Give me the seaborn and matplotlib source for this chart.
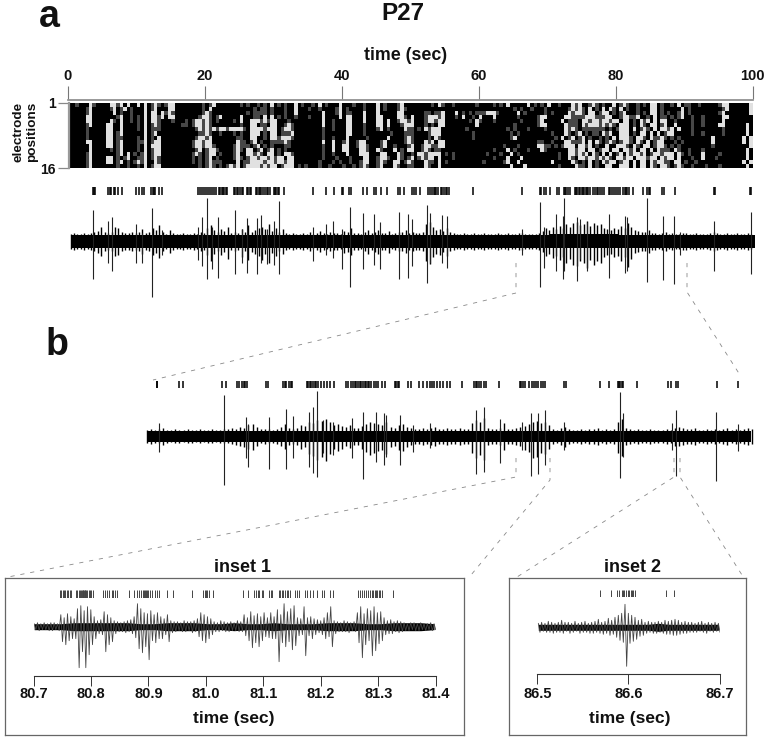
import numpy as np
import matplotlib
matplotlib.use('Agg')
import matplotlib.pyplot as plt
from matplotlib.lines import Line2D
import seaborn as sns

W, H = 765, 739

# electrode activity, 0.5 s bins, four 25 s blocks per row ('.' silent, ':' weak, '#' strong)
heat_rows = [
    ["..:...#:....##:#.#..#.#.:#:.:##........:.:#........", ":.:..:.:.#.:.:..#.:..:.#.:...#...:..:...#.:...:#..#", "......:.#:..:......:....:.:.#.....#.:.:.#..:...#:#:.", "..:#:.:..#.:#:..:.:.##.:..:.#.::..:.....:##......#.#"],
    [".....:#.....:#.:#.:...#.:#...##........:.#.........", "....:.::.:...:..#...:..:....:#.:....:...#.:...:#:..", "..............................:.:..:...:......:#:#:", ":.#.:.#.#:.#.:..:...##.:.....#.:.........:#......#.#"],
    [".....:#......#.:..:...#.##.#:#:........:#:.........", "..:.::::.:...:..#.......#...:#.::...#...#.....##...", "....::.::#...#.:.:.:::###:.....#.:.....:.:....#:##", ":.##.:##.:.:#...:.:.##.:.:..:#.:........:#.......#.#"],
    [".....##.......:#..:.:.#.##:#.##.......:##:.:#.....:#", "#...::.#.#.:.:..:...:...#....#.##...#...##....##:.:", "#...:###:#...:.#..:.#...#......:.....:##.....##:::", ":###:::##..:##::#..:.#.::.:.:#..:..:.....##.......#"],
    [".....##.....#:.#..:.:.#.##:...:...:.:##:#:.:....:.##", "#..###:#:##...:.........#..:...##...#...##.#..:##:#", "#...:##:##.......:.#:...:.......:....:#.....#.:::.", "##:##:##:##.##.:.#:#.#.##..:....:..:.....#........#"],
    [".....:#....##..#....:.#.:#:......::.:##:#:........:#", ":..##.::.##..:#:........#..:...##...:...##.#...:##:", "#...:.:.##.........#..........:......:##.....#:::.:", "#:###:#:#:.###.:.#:.##.:#..#....:..:....##......#.#"],
    [".....:.....##..#....:.#.:::..........:#:#:#:##:###:#", "#:.####:###.:##:........:..:...##...:...:#.:....#:#", ":.:.#:###.......:...........:.:...:....:.....#:#:..", ":::::::.:.:###.#.:#:.#.##:#.#...:........:......#.#"],
    [".....:.....##.:#......#.:#............::#:..:...:.:.", ":..###.:.##.:::#........:......##...:.......:...::#", ":....:###.........:..........:.:.........:...#:.:#:", ".:.::.#:#..###.:.##.#.#.:##.....:..:.....:......#.#"],
    [".....:.....##.::....:.#.:.#..........:##:#.......:#.", ":..##..:.##:###:........:..:...#.....:.....#....:#:", ":....:.#:.........:..........:#...........:.#.:#.:", "#.:..:.:.#.###:.##:.#::#:.:.:.........#........#.#"],
    [".....##....##.:#....::#.:##.........:##:##.......##.", "::.:#.:..::::#:.........#..#..:#..:##....:#.....:#:", ":...#:#.##...........................::..:...##:::", "#.#.#:.:#:.:##:.#:.#.:##...:.:........#........#.#"],
    ["......#....##.:#....:.#.###.........:##:##:.....:##.", ":::.:#.:.:...::.........:..#..##..:##:...:#..:...:#", "#..:##::##.................:...:.....##::.:.:###.##", "#:#.:..#..###:.#:.##.:##:.:.:.........:..........#"],
    ["......#.....:.:#....:.#.:##..........:#.:##:....:##.", ":.##.:#.:#.:.:..........:..#..##...##:..#:...#.:.#", "#..:#:.::...............:...#.:...:...#:......##:##", "#.##.:##.##.##:#.##.#.#:::.#:..:...:............#.#"],
    [".....:#.......:#.#.:.:#.:##.........:#:.:##.:...:#:.", "..##:#:.##.:.##:........:..:...#...###...##...#:...:", ":.##:####.:.:.........:...:..#.:...........:..##:##", ":#.#:.#.#.:#.#:##:#.:##:###.#:.:...#....:.......#.#"],
    [".....:#....##.:.:#..::#.:#:.........:.:.:#.:....:#:.", ":.:##:##:#:##.##........:...:...:...##..:##:..#:.:#", "#.:#:##.#...:...........:...#...#..........:..#:.##", "#:##:#:#:.##:##.###:##.#:##.#...:..#...:........#.#"],
    [".....:#....##.:#.:.:#:#..#:.........:.:.:#:::....#:.", ".::####:##:##:##.......:...:.:..:..:##..:#:..##.:#", ":...#::.#.:..........:.....:#..#.........#.....#:.#", ":.#.:.#:##.:##.#.##.#:##::.##.:..:.............#.#"],
    [".....:#.......:..:..:.#.:##...........:.:#:.:.:#:##.", ".:####:#:##.:###.:.:...:..:...:..:.:#:..:#...#:..:", ":...#:..#....................#...#.........:....#:.:", ":.#.:..##..###.#.##.#:.##:.:#:..:...:...:.......#.#"],
]
heat_levels = {'.': 0.0, ':': 0.28, '#': 0.88}
time_ticks = [0, 20, 40, 60, 80, 100]

# panel a trace: solid core per 10 s, fringe per 0.5 s, large spikes
a_core_up = [6, 6, 6, 6, 6, 6, 6, 7, 6, 6]
a_core_down = [7, 7, 7, 7, 7, 7, 7, 7, 7, 7]
a_fuzz_up = [7,8,7,7,8,7,8,9,10,14,9,8,9,14,13,9,8,8,9,8,
             9,12,8,9,13,11,16,9,7,11,8,7,7,8,7,7,8,7,9,8,
             13,16,11,9,12,10,14,8,9,8,12,9,16,9,11,13,14,12,17,10,
             13,9,12,8,7,8,7,7,8,7,9,7,8,10,8,7,9,8,8,7,
             10,9,13,8,8,7,9,11,8,9,11,8,8,10,7,8,9,9,11,8,
             9,8,8,9,17,19,14,11,12,10,13,9,8,7,7,8,7,7,8,7,
             7,8,7,7,7,8,7,7,8,7,7,8,8,7,7,7,7,8,10,13,
             11,14,12,15,13,17,14,18,19,16,17,20,15,18,16,17,13,12,11,13,
             12,15,13,18,14,11,10,9,9,11,8,8,7,8,9,7,8,7,7,8,
             8,7,7,8,7,7,7,8,9,8,7,7,8,7,7,8,7,7,8,7]
a_fuzz_down = [8,9,8,8,9,8,9,10,12,15,10,9,10,15,14,10,9,9,10,9,
               10,13,9,10,14,12,17,10,8,12,9,8,8,9,8,8,9,8,10,9,
               14,20,13,10,14,11,18,9,10,9,16,10,19,11,13,15,19,13,22,12,
               15,10,13,9,8,9,8,8,9,8,10,8,9,11,9,8,10,9,9,8,
               12,11,14,9,9,8,10,13,9,11,13,9,9,12,8,9,10,10,12,9,
               10,9,9,10,20,23,16,13,14,11,15,10,9,8,8,9,8,8,9,8,
               8,9,8,8,8,9,8,8,9,8,8,9,9,8,8,8,8,9,11,15,
               13,17,15,19,16,22,18,24,25,20,22,27,19,24,20,22,16,14,13,16,
               15,20,16,26,18,12,11,10,10,12,9,9,8,9,10,8,9,8,8,9,
               9,8,8,9,8,8,8,9,10,9,8,8,9,8,8,9,8,8,9,8]
a_spike_t = [3.6,5.8,6.4,9.8,10.8,12.2,13.6,18.9,19.5,20.2,21,21.8,24.3,25.4,26.1,27.6,28.1,29,30,30.8,
             35.8,37.6,38.7,40,41.1,43,44.7,45.6,48.3,49.6,50.2,52.4,52.8,54.6,55.3,66.3,68.9,69.5,71.2,72.3,
             72.5,74.3,74.8,75.8,79,81.4,81.6,84.6,86.9,88.5,89.4,94.4,99.8]
a_spike_up = [31,20,24,17,8,33,11,14,24,43,14,24,31,12,23,23,26,12,20,40,
              14,17,20,12,34,28,27,19,29,27,22,36,28,26,25,12,39,14,27,25,
              43,24,22,19,27,25,24,43,25,25,9,20,29]
a_spike_down = [38,22,30,22,22,56,14,19,25,38,28,37,33,22,32,33,22,23,24,33,
                20,14,17,28,46,28,24,28,38,37,25,42,22,22,27,14,46,27,30,38,
                30,40,18,30,37,32,30,41,39,43,14,30,33]
a_events = [3.6,3.7,3.9,5.8,6,6.2,6.6,6.8,7.3,7.8,9.9,10.3,10.7,11.1,12.1,12.3,12.5,12.7,13.3,13.7,
            18.9,19.2,19.5,19.8,20.1,20.4,20.7,21,21.3,21.6,22,22.2,22.4,22.6,22.8,23,23.2,
            24.2,24.4,24.6,24.8,25,25.4,25.5,26.1,26.3,26.5,26.7,27.4,27.6,27.8,28,28.2,28.4,28.8,29,29.2,29.4,
            30,30.2,30.4,30.6,30.8,31.5,35.8,37.6,38.8,40,40.2,41,41.3,43.1,43.6,44.6,45,45.7,46.5,48.2,
            48.4,49,50.2,50.5,50.8,51.4,52.6,52.8,53.1,53.4,53.6,53.8,54,54.4,54.6,54.9,55.2,55.4,55.6,
            59.2,66.3,68.9,69.1,69.5,69.8,70.4,71.4,71.7,72.4,72.6,72.8,73,73.3,74,74.2,74.4,74.6,74.8,75,75.2,75.4,
            75.6,75.8,76,76.3,76.7,77,77.2,77.4,77.7,78,78.3,79,79.2,79.4,79.7,80,80.3,80.7,81.1,81.3,81.5,81.7,81.9,
            82.6,84,84.6,84.8,85,86.7,87.1,88.6,94.3,94.5,99.7,99.8]

# panel b trace: sweep samples
b_x_range = (42, 1530)
b_core_up = [5, 5, 5, 5, 5, 5, 5, 5]
b_core_down = [6, 6, 6, 6, 6, 6, 6, 6]
b_fuzz_up = [6,7,6,7,8,6,6,7,6,6,7,6,6,7,6,6,7,6,6,7,
             7,8,7,9,8,11,12,9,7,7,7,6,7,9,12,8,7,8,11,10,
             14,13,16,15,17,14,11,12,10,9,11,8,8,10,12,14,13,12,11,14,
             9,8,11,12,9,8,7,7,8,7,8,9,7,7,8,7,7,8,7,7,
             13,16,14,18,8,7,7,8,13,7,7,8,9,10,12,14,15,13,14,11,
             7,6,8,9,7,6,6,7,6,7,7,8,6,7,6,7,14,17,8,7,
             6,7,6,6,7,6,6,6,7,6,8,9,8,7,7,8,6,6,7,6,
             7,6,7,8,6,7,6,7,8,7]
b_fuzz_down = [7,8,7,7,9,7,6,7,7,6,7,7,6,7,6,7,7,6,7,7,
               7,8,9,10,11,13,14,10,7,8,7,7,8,10,13,9,8,9,13,11,
               18,20,24,21,25,18,13,15,13,10,12,9,9,13,16,19,17,15,14,18,
               11,10,14,15,11,9,8,8,9,8,9,10,8,8,9,8,8,9,8,8,
               17,22,19,24,9,8,8,9,14,8,8,9,10,14,16,22,21,17,18,13,
               8,7,9,11,8,7,7,8,7,8,8,9,7,8,7,8,17,20,9,8,
               7,8,7,7,8,7,7,7,8,7,10,10,9,8,8,9,7,7,8,7,
               8,7,8,9,7,8,7,8,9,8]
b_spike_x = [72,232,285,290,343,385,402,440,450,460,475,500,548,575,605,625,632,665,697,740,
             853,873,912,965,987,1005,1022,1070,1208,1215,1335,1346,1445,1497]
b_spike_up = [13,41,19,12,19,27,20,24,29,45,16,14,18,24,24,23,21,21,11,13,
              26,29,17,14,23,23,26,14,44,23,13,26,24,12]
b_spike_down = [16,49,22,31,33,33,22,31,37,41,17,19,22,43,26,29,21,29,16,12,
                38,36,27,14,40,38,29,14,42,21,14,40,45,15]
b_events = [66,67,122,130,226,236,263,268,276,280,284,288,335,340,378,382,385,392,396,400,
            435,439,443,447,451,455,459,463,470,478,486,492,502,532,538,544,550,554,558,562,566,570,574,578,582,586,590,
            595,600,605,612,620,628,652,656,660,664,685,693,712,722,732,738,744,750,756,765,772,782,788,818,
            848,852,856,860,864,872,878,910,960,964,968,972,982,990,995,1000,1005,1012,1017,1022,1070,1074,1158,1180,
            1202,1205,1208,1211,1214,1248,1325,1332,1345,1349,1446,1497]

# inset 1: reading every 10 samples
inset1_sample = 0.7 / 1207
inset1_up = [3,4,3,4,3,4,4,3,12,9,13,10,8,18,21,16,20,17,10,6,
             7,15,12,9,6,5,4,5,6,7,10,23,18,14,13,16,12,14,10,8,
             12,6,5,5,4,6,5,5,6,8,14,12,10,8,5,4,6,5,4,5,
             4,6,5,12,9,15,11,13,10,14,9,14,10,17,12,23,15,18,21,9,
             8,20,9,10,8,7,6,9,14,20,6,5,4,6,5,4,5,14,20,13,
             18,16,20,14,15,9,6,7,5,6,5,4,3,4,4,3,4,3,3,4,3]
inset1_down = [3,4,3,3,4,4,3,4,15,18,14,12,12,41,25,41,28,18,12,7,
               8,25,18,15,7,5,5,6,5,7,11,22,26,20,33,14,16,12,12,8,
               15,6,5,4,5,5,4,6,5,10,14,16,12,8,5,5,4,5,5,4,
               4,5,5,9,14,21,16,20,14,10,11,12,12,35,16,20,15,23,19,9,
               8,29,9,12,8,6,8,12,10,20,7,5,5,5,6,4,5,16,31,18,
               14,29,24,17,14,8,7,7,5,6,5,4,4,3,4,4,3,4,3,4,3]
inset1_core = [3,3,3,4,4,4,4,4,3,3,4,4,4,3,3,4,3,3,4,3,3,3,4,4,4,3,3,4,4,4,3]
inset1_events = [180,184,188,192,196,200,204,209,213,228,232,236,240,244,246,248,250,252,254,256,258,262,266,270,274,278,
                 310,315,320,328,335,340,345,350,388,402,410,416,422,428,432,436,438,440,445,450,455,465,472,478,500,518,
                 575,610,614,618,622,628,640,730,743,763,768,773,778,785,790,808,812,815,836,840,845,850,856,860,865,870,
                 885,892,898,915,921,930,940,950,965,972,990,1000,1075,1080,1086,1092,1098,1104,1110,1116,1120,1124,1128,
                 1132,1136,1140,1146,1180]
inset1_ticks = [80.7, 80.8, 80.9, 81.0, 81.1, 81.2, 81.3, 81.4]

# inset 2
inset2_sample = 0.2 / 547
inset2_up = [4,5,4,6,5,4,5,7,5,5,4,6,4,5,6,4,5,6,8,5,6,9,7,10,12,14,23,14,12,10,7,8,5,6,5,
             5,6,5,7,6,7,8,7,5,6,5,5,4,5,6,4,5,4,5,4]
inset2_down = [5,4,5,5,6,5,5,6,4,6,5,4,6,5,5,6,6,5,6,7,6,8,7,10,13,15,39,16,14,12,9,8,6,5,6,
               6,5,6,7,7,8,8,7,6,6,5,5,5,4,5,6,4,5,4,5]
inset2_core = [3,3,3,3,3,3,3,3,3,3,3,3,4,3,3,3,3,3,3]
inset2_events = [301,334,352,356,367,370,373,378,383,388,392,396,400,404,497,523]
inset2_ticks = [86.5, 86.6, 86.7]


def px_axes(x0, y0, x1, y1):
    # axes from pixel box, y counted from top of the image
    return fig.add_axes([x0 / W, 1 - y1 / H, (x1 - x0) / W, (y1 - y0) / H])


def px_text(x, y, s, size, **kw):
    fig.text(x / W, 1 - y / H, s, fontsize=size, ha='center', va='center', fontweight='bold', color='#111111', **kw)


def px_dash(points, color='#888888'):
    xs = [p[0] / W for p in points]
    ys = [1 - p[1] / H for p in points]
    fig.add_artist(Line2D(xs, ys, color=color, lw=0.6, ls=(0, (5, 7))))


def raster(box, times, xlim, color='black', lw=1.1):
    ax = px_axes(*box)
    sns.rugplot(x=np.array(times, dtype=float), height=1, ax=ax, color=color, linewidth=lw)
    ax.set_xlim(*xlim)
    ax.axis('off')
    return ax


def zigzag(x_start, step, up, down):
    up = np.array(up, dtype=float)
    down = np.array(down, dtype=float)
    n = min(len(up), len(down))
    x = x_start + step * np.arange(2 * n) / 2
    y = np.column_stack((up[:n], -down[:n])).ravel()
    return x, y


def draw_trace(ax, core_edges, core_up, core_down, fuzz_x, fuzz_up, fuzz_down, spike_x, spike_up, spike_down):
    ax.stairs(np.array(core_up, float), core_edges, baseline=-np.array(core_down, float), fill=True, color='black',
              clip_on=False)
    ax.vlines(fuzz_x, -np.array(fuzz_down), fuzz_up, color='black', lw=1.0, clip_on=False)
    ax.vlines(spike_x, -np.array(spike_down), spike_up, color='#222222', lw=0.8)


sns.set_theme(style='white')
plt.rcParams['font.family'] = ['Liberation Sans', 'DejaVu Sans']
fig = plt.figure(figsize=(W / 100, H / 100), dpi=100)

# heat map
heat = np.array([[heat_levels[c] for block in row for c in block.ljust(50, '.')[:50]] for row in heat_rows])
ax_heat = px_axes(68.5, 103, 752.5, 168)
sns.heatmap(heat, cmap='gray', vmin=0, vmax=1, cbar=False, ax=ax_heat, xticklabels=False, yticklabels=False)
ax_heat.set_yticks([0, 16])
ax_heat.set_yticklabels(['1', '16'], rotation=0, fontsize=10, fontweight='bold', color='#111111')
ax_heat.tick_params(axis='y', left=True, length=8, width=0.9, color='#888888', pad=1)
ax_heat.spines['left'].set_visible(True)
ax_heat.spines['left'].set_color('#999999')
ax_heat.spines['left'].set_linewidth(1.6)

# time axis above heat map
ax_time = px_axes(68, 86, 752.5, 99.5)
ax_time.set_xlim(0, 100)
ax_time.set_ylim(0, 1)
ax_time.set_yticks([])
ax_time.set_xticks(time_ticks)
ax_time.xaxis.tick_top()
ax_time.tick_params(axis='x', direction='in', top=True, length=9.4, width=0.8, color='#777777', pad=2,
                    labelsize=10.5)
for lab in ax_time.get_xticklabels():
    lab.set_fontweight('bold')
    lab.set_color('#111111')
for s in ['left', 'right', 'top']:
    ax_time.spines[s].set_visible(False)
ax_time.spines['bottom'].set_color('#888888')
ax_time.spines['bottom'].set_linewidth(1.2)
ax_time.patch.set_alpha(0)

# panel a
raster((68.5, 187, 752.5, 194.5), a_events, (0, 100))
ax_a = px_axes(68.5, 190, 752.5, 305)
draw_trace(ax_a, 0.3 + 10 * np.arange(len(a_core_up) + 1), a_core_up, a_core_down,
           0.3 + 0.5 * np.arange(len(a_fuzz_up)), a_fuzz_up, a_fuzz_down, a_spike_t, a_spike_up, a_spike_down)
ax_a.set_xlim(0, 100)
ax_a.set_ylim(-63.5, 51.5)
ax_a.axis('off')

# panel b
raster((147, 381, 751, 388.5), b_events, b_x_range)
ax_b = px_axes(147, 370, 751, 500)
draw_trace(ax_b, b_x_range[0] + 186 * np.arange(len(b_core_up) + 1), b_core_up, b_core_down,
           b_x_range[0] + 10 * np.arange(len(b_fuzz_up)), b_fuzz_up, b_fuzz_down, b_spike_x, b_spike_up, b_spike_down)
ax_b.set_xlim(*b_x_range)
ax_b.set_ylim(-64, 66)
ax_b.axis('off')

# inset frames
for box in [(4.5, 578, 464.5, 735), (508.5, 578, 745.5, 735)]:
    ax_f = px_axes(*box)
    ax_f.set_xticks([])
    ax_f.set_yticks([])
    for s in ax_f.spines.values():
        s.set_visible(True)
        s.set_color('#666666')
        s.set_linewidth(0.9)
    ax_f.patch.set_alpha(0)

# inset 1
i1_t0 = inset1_ticks[0]
raster((33.5, 590, 435.7, 597.5), i1_t0 + (np.array(inset1_events) - 100) * inset1_sample,
       (inset1_ticks[0], inset1_ticks[-1]), color='#444444', lw=0.7)
ax_i1 = px_axes(33.5, 580, 435.7, 672)
x1, y1 = zigzag(i1_t0 + 2 * inset1_sample, 10 * inset1_sample, inset1_up, inset1_down)
sns.lineplot(x=x1, y=y1, sort=False, estimator=None, color='#444444', lw=0.6, ax=ax_i1)
core_x = i1_t0 + 2 * inset1_sample + 40 * inset1_sample * np.arange(len(inset1_core))
ax_i1.fill_between(core_x, -np.array(inset1_core), inset1_core, color='black', lw=0)
ax_i1.set_xlim(inset1_ticks[0], inset1_ticks[-1])
ax_i1.set_ylim(-45.3, 46.7)
ax_i1.axis('off')

# inset 2
i2_t0 = inset2_ticks[0]
raster((537.3, 590, 719.7, 597), i2_t0 + (np.array(inset2_events) - 112) * inset2_sample,
       (inset2_ticks[0], inset2_ticks[-1]), color='#444444', lw=0.7)
ax_i2 = px_axes(537.3, 580, 719.7, 672)
x2, y2 = zigzag(i2_t0 + 3 * inset2_sample, 10 * inset2_sample, inset2_up, inset2_down)
sns.lineplot(x=x2, y=y2, sort=False, estimator=None, color='#444444', lw=0.6, ax=ax_i2)
core_x2 = i2_t0 + 3 * inset2_sample + 30 * inset2_sample * np.arange(len(inset2_core))
ax_i2.fill_between(core_x2, -np.array(inset2_core), inset2_core, color='black', lw=0)
ax_i2.set_xlim(inset2_ticks[0], inset2_ticks[-1])
ax_i2.set_ylim(-44.7, 47.3)
ax_i2.axis('off')

# inset time axes
for box, ticks in [((33.5, 675.5, 435.7, 684), inset1_ticks), ((537.3, 674, 719.7, 684), inset2_ticks)]:
    ax_t = px_axes(*box)
    ax_t.set_xlim(ticks[0], ticks[-1])
    ax_t.set_ylim(0, 1)
    ax_t.set_yticks([])
    ax_t.set_xticks(ticks)
    ax_t.set_xticklabels(['%.1f' % t for t in ticks], fontsize=10.5, fontweight='bold', color='#111111')
    ax_t.tick_params(axis='x', direction='in', bottom=False, top=True, labeltop=False, labelbottom=True, length=7,
                     width=0.7, color='#333333', pad=2)
    for s in ['left', 'right', 'bottom']:
        ax_t.spines[s].set_visible(False)
    ax_t.spines['top'].set_color('#333333')
    ax_t.spines['top'].set_linewidth(0.8)
    ax_t.patch.set_alpha(0)

# connectors
px_dash([(516, 263), (516, 293), (153, 380)])
px_dash([(687, 263), (687, 292), (740, 375)])
px_dash([(516, 458), (516, 477), (8, 577)])
px_dash([(550, 458), (550, 480), (471, 575)])
px_dash([(674, 458), (674, 477), (517, 577)])
px_dash([(680, 458), (680, 477), (742, 575)])

# text
px_text(49, 17, 'a', 27)
px_text(57, 345, 'b', 27)
px_text(403, 14, 'P27', 17.5)
px_text(406, 55, 'time (sec)', 12.8)
px_text(18, 132, 'electrode', 9.7, rotation=90)
px_text(32, 132, 'positions', 9.7, rotation=90)
px_text(242.7, 568, 'inset 1', 13)
px_text(633, 568, 'inset 2', 13)
px_text(234, 719, 'time (sec)', 12.5)
px_text(630, 719, 'time (sec)', 12.5)

fig.savefig('out.png', dpi=100)
